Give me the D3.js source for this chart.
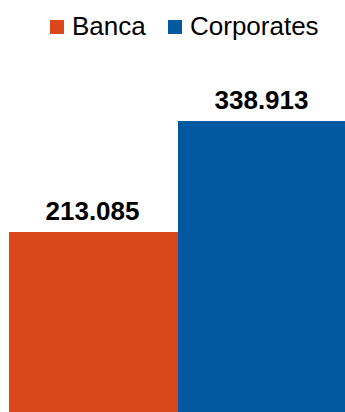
<!DOCTYPE html>
<html>
<head>
<meta charset="utf-8">
<script src="https://cdn.jsdelivr.net/npm/d3@7"></script>
<style>
  html, body { margin: 0; padding: 0; background: #fff; }
  svg { display: block; }
</style>
</head>
<body>
<svg id="chart" width="345" height="412"></svg>
<script>
const categories = ["Banca", "Corporates"];
const values = [213.085, 338.913];
const valueLabels = ["213.085", "338.913"];
const colors = ["#DA471B", "#01599F"];

const W = 345, H = 412;
const svg = d3.select("#chart");
const font = "'Liberation Sans', Arial, sans-serif";

const x = d3.scaleBand().domain(categories).range([9, 347]).paddingInner(0).paddingOuter(0);
const y = d3.scaleLinear().domain([0, 400]).range([420, 67.1]);

svg.selectAll("rect.bar")
  .data(categories)
  .join("rect")
  .attr("class", "bar")
  .attr("x", d => x(d))
  .attr("width", x.bandwidth())
  .attr("y", (d, i) => y(values[i]))
  .attr("height", (d, i) => y(0) - y(values[i]))
  .attr("fill", (d, i) => colors[i]);

svg.selectAll("text.val")
  .data(categories)
  .join("text")
  .attr("class", "val")
  .attr("x", d => x(d) + x.bandwidth() / 2 - 1)
  .attr("y", (d, i) => y(values[i]) - 12)
  .attr("text-anchor", "middle")
  .style("font-family", font)
  .style("font-weight", "bold")
  .style("font-size", "26px")
  .attr("fill", "#000")
  .text((d, i) => valueLabels[i]);

// legend
const legendX = [50, 168];
const lg = svg.selectAll("g.leg")
  .data(categories)
  .join("g")
  .attr("class", "leg")
  .attr("transform", (d, i) => `translate(${legendX[i]},20)`);
lg.append("rect")
  .attr("width", 14).attr("height", 14)
  .attr("fill", (d, i) => colors[i]);
lg.append("text")
  .attr("x", 22).attr("y", 15)
  .style("font-family", font)
  .style("font-size", "26px")
  .attr("fill", "#000")
  .text(d => d);
</script>
</body>
</html>
